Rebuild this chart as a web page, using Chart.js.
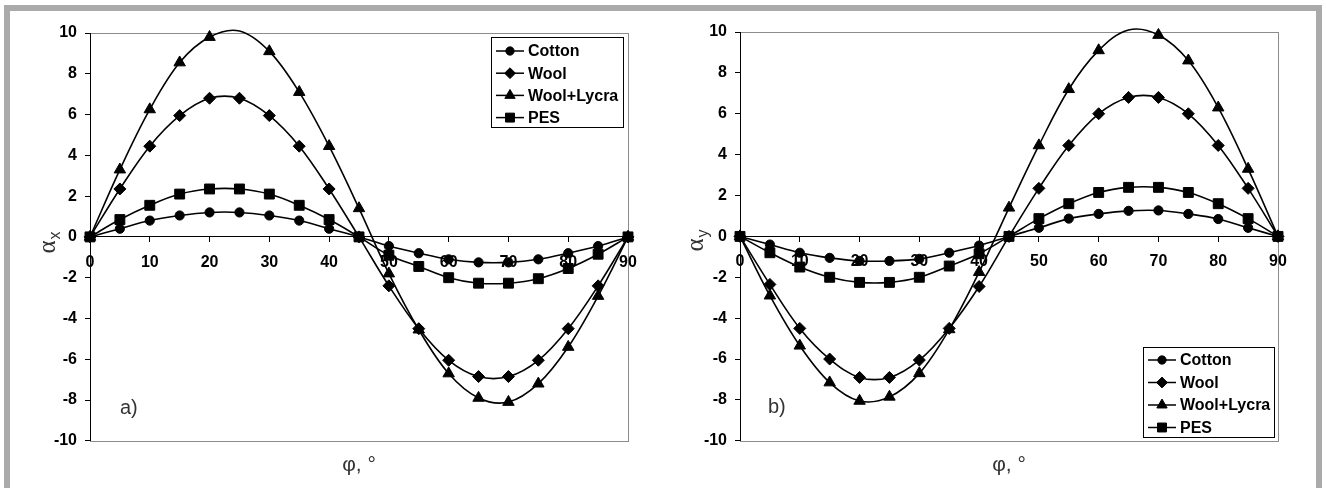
<!DOCTYPE html>
<html><head><meta charset="utf-8">
<script src="https://cdn.jsdelivr.net/npm/chart.js@4.4.1/dist/chart.umd.min.js"></script>
<style>
html,body{margin:0;padding:0;background:#fff;width:1326px;height:488px;overflow:hidden;position:relative;}
#frame{position:absolute;left:4px;top:5px;width:1318px;height:490px;border:6px solid #aaaaaa;box-sizing:border-box;}
canvas{position:absolute;top:0;}
</style></head>
<body>
<div id="frame"></div>
<canvas id="ca" width="663" height="488" style="left:0px"></canvas>
<canvas id="cb" width="663" height="488" style="left:663px"></canvas>
<script>
// ---- data ----
const phi = [0, 5, 10, 15, 20, 25, 30, 35, 40, 45, 50, 55, 60, 65, 70, 75, 80, 85, 90];
const seriesNames = ['Cotton', 'Wool', 'Wool+Lycra', 'PES'];
const yTicksMin = -10, yTicksMax = 10, yStep = 2;
const xTicksMin = 0, xTicksMax = 90, xStep = 10;

// panel a) alpha_x
const cottonX = [0, 0.4, 0.8, 1.05, 1.2, 1.2, 1.05, 0.8, 0.4, 0, -0.45, -0.8, -1.1, -1.25, -1.25, -1.1, -0.8, -0.45, 0];
const woolX   = [0, 2.35, 4.45, 5.95, 6.8, 6.8, 5.95, 4.45, 2.35, 0, -2.4, -4.5, -6.05, -6.85, -6.85, -6.05, -4.5, -2.4, 0];
const lycraX  = [0, 3.3, 6.25, 8.55, 9.8, 10.1, 9.1, 7.1, 4.45, 1.4, -1.8, -4.55, -6.7, -7.9, -8.1, -7.2, -5.4, -2.9, 0];
const pesX    = [0, 0.85, 1.55, 2.1, 2.35, 2.35, 2.1, 1.55, 0.85, 0, -0.9, -1.45, -2.0, -2.27, -2.27, -2.05, -1.55, -0.85, 0];

// panel b) alpha_y
const cottonY = [0, -0.4, -0.8, -1.05, -1.2, -1.2, -1.1, -0.8, -0.45, 0, 0.42, 0.87, 1.1, 1.25, 1.27, 1.1, 0.85, 0.42, 0];
const woolY   = [0, -2.35, -4.5, -6.0, -6.9, -6.9, -6.05, -4.5, -2.45, 0, 2.35, 4.45, 6.0, 6.8, 6.8, 6.0, 4.45, 2.35, 0];
const lycraY  = [0, -2.9, -5.35, -7.15, -8.05, -7.85, -6.7, -4.55, -1.75, 1.4, 4.45, 7.2, 9.1, 10.1, 9.85, 8.6, 6.3, 3.3, 0];
const pesY    = [0, -0.8, -1.5, -2.0, -2.25, -2.25, -2.0, -1.45, -0.85, 0, 0.87, 1.6, 2.15, 2.4, 2.4, 2.15, 1.6, 0.87, 0];

// ---- styles ----
const markerStyles = ['circle', 'rectRot', 'triangle', 'rect'];
const markerRadius = [4.6, 6, 6.6, 7];
const SANS = '"Liberation Sans", Arial, sans-serif';

function makeDatasets(seriesList) {
  return seriesList.map((vals, i) => ({
    label: seriesNames[i],
    data: phi.map((x, k) => ({x: x, y: vals[k]})),
    borderColor: '#000',
    backgroundColor: '#000',
    borderWidth: 1.6,
    tension: 0.36,
    clip: false,
    pointStyle: markerStyles[i],
    pointRadius: (c) => (c.raw && Math.abs(c.raw.y) > yTicksMax ? 0 : markerRadius[i]),
    pointBorderWidth: 1,
    pointBorderColor: '#000',
    pointBackgroundColor: '#000'
  }));
}

const panelPlugin = {
  id: 'panelDecor',
  beforeDraw(chart, args, o) {
    const ctx = chart.ctx, a = chart.chartArea;
    ctx.save();
    ctx.strokeStyle = '#8c8c8c';
    ctx.lineWidth = 1;
    ctx.strokeRect(Math.round(a.left) + 0.5, Math.round(a.top) + 0.5, Math.round(a.right - a.left), Math.round(a.bottom - a.top));
    ctx.restore();
  },
  afterDraw(chart, args, o) {
    const ctx = chart.ctx;
    // y axis title with subscript
    ctx.save();
    ctx.translate(o.yTitle.x, o.yTitle.y);
    ctx.rotate(-Math.PI / 2);
    ctx.fillStyle = '#333';
    ctx.textBaseline = 'alphabetic';
    const fA = '25px "Liberation Serif", "DejaVu Serif", serif';
    const fS = '16px ' + SANS;
    ctx.font = fA;
    const wA = ctx.measureText('α').width;
    ctx.font = fS;
    const wS = ctx.measureText(o.yTitle.sub).width;
    const start = -(wA + wS) / 2;
    ctx.font = fA;
    ctx.fillText('α', start, 7);
    ctx.font = fS;
    ctx.fillText(o.yTitle.sub, start + wA + 1, 12);
    ctx.restore();
    // panel label
    ctx.save();
    ctx.fillStyle = '#333';
    ctx.font = '20px ' + SANS;
    ctx.textBaseline = 'middle';
    ctx.fillText(o.panel.text, o.panel.x, o.panel.y);
    ctx.restore();
    // legend
    const L = o.legend;
    ctx.save();
    ctx.fillStyle = '#fff';
    ctx.fillRect(L.x, L.y, L.w, L.h);
    ctx.strokeStyle = '#000';
    ctx.lineWidth = 1;
    ctx.strokeRect(L.x + 0.5, L.y + 0.5, L.w, L.h);
    chart.data.datasets.forEach((ds, i) => {
      const cy = L.y + L.first + i * L.step;
      ctx.beginPath();
      ctx.moveTo(L.x + 5, cy);
      ctx.lineTo(L.x + 33, cy);
      ctx.strokeStyle = '#000';
      ctx.lineWidth = 1.5;
      ctx.stroke();
      ctx.fillStyle = '#000';
      ctx.strokeStyle = '#000';
      ctx.lineWidth = 1;
      Chart.helpers.drawPoint(ctx, {pointStyle: ds.pointStyle, radius: markerRadius[i] * 0.9, rotation: 0, borderWidth: 1}, L.x + 19, cy);
      ctx.fillStyle = '#000';
      ctx.font = 'bold 16px ' + SANS;
      ctx.textBaseline = 'middle';
      ctx.fillText(ds.label, L.x + 37, cy + 1);
    });
    ctx.restore();
  }
};

function makeChart(id, seriesList, cfg) {
  return new Chart(document.getElementById(id), {
    type: 'line',
    data: {datasets: makeDatasets(seriesList)},
    plugins: [panelPlugin],
    options: {
      responsive: false,
      animation: false,
      events: [],
      layout: {padding: {left: 0, top: cfg.top, right: cfg.right, bottom: 0}},
      plugins: {
        legend: {display: false},
        tooltip: {enabled: false},
        panelDecor: cfg.decor
      },
      scales: {
        x: {
          type: 'linear',
          position: {y: 0},
          min: xTicksMin, max: xTicksMax,
          ticks: {stepSize: xStep, color: '#000', font: {family: SANS, size: 16, weight: 'bold'}, padding: 11, maxRotation: 0, autoSkip: false},
          grid: {display: true, drawOnChartArea: false, drawTicks: true, tickLength: 5, color: '#000'},
          border: {display: true, color: '#000', width: 1}
        },
        x2: {
          type: 'linear',
          position: 'bottom',
          display: true,
          ticks: {display: false},
          grid: {display: false, drawTicks: false},
          border: {display: false},
          title: {display: true, text: 'φ, °', color: '#333', align: 'center', font: {family: SANS, size: 21}, padding: {top: 12, bottom: 10}}
        },
        y: {
          type: 'linear',
          position: 'left',
          min: yTicksMin, max: yTicksMax,
          afterFit: (s) => { s.width = cfg.left; },
          ticks: {stepSize: yStep, color: '#000', font: {family: SANS, size: 16, weight: 'bold'}, padding: 8},
          grid: {display: true, drawOnChartArea: false, drawTicks: true, tickLength: 5, color: '#000'},
          border: {display: true, color: '#000', width: 1}
        }
      }
    }
  });
}

makeChart('ca', [cottonX, woolX, lycraX, pesX], {
  left: 90, top: 33, right: 35,
  decor: {
    yTitle: {x: 48, y: 243, sub: 'x'},
    panel: {text: 'a)', x: 120, y: 408},
    legend: {x: 491, y: 37, w: 132, h: 90, first: 14, step: 22.2}
  }
});
makeChart('cb', [cottonY, woolY, lycraY, pesY], {
  left: 77, top: 32, right: 48,
  decor: {
    yTitle: {x: 33, y: 241, sub: 'y'},
    panel: {text: 'b)', x: 105, y: 407},
    legend: {x: 480, y: 347, w: 131, h: 90, first: 13, step: 22.5}
  }
});
</script>
</body></html>
